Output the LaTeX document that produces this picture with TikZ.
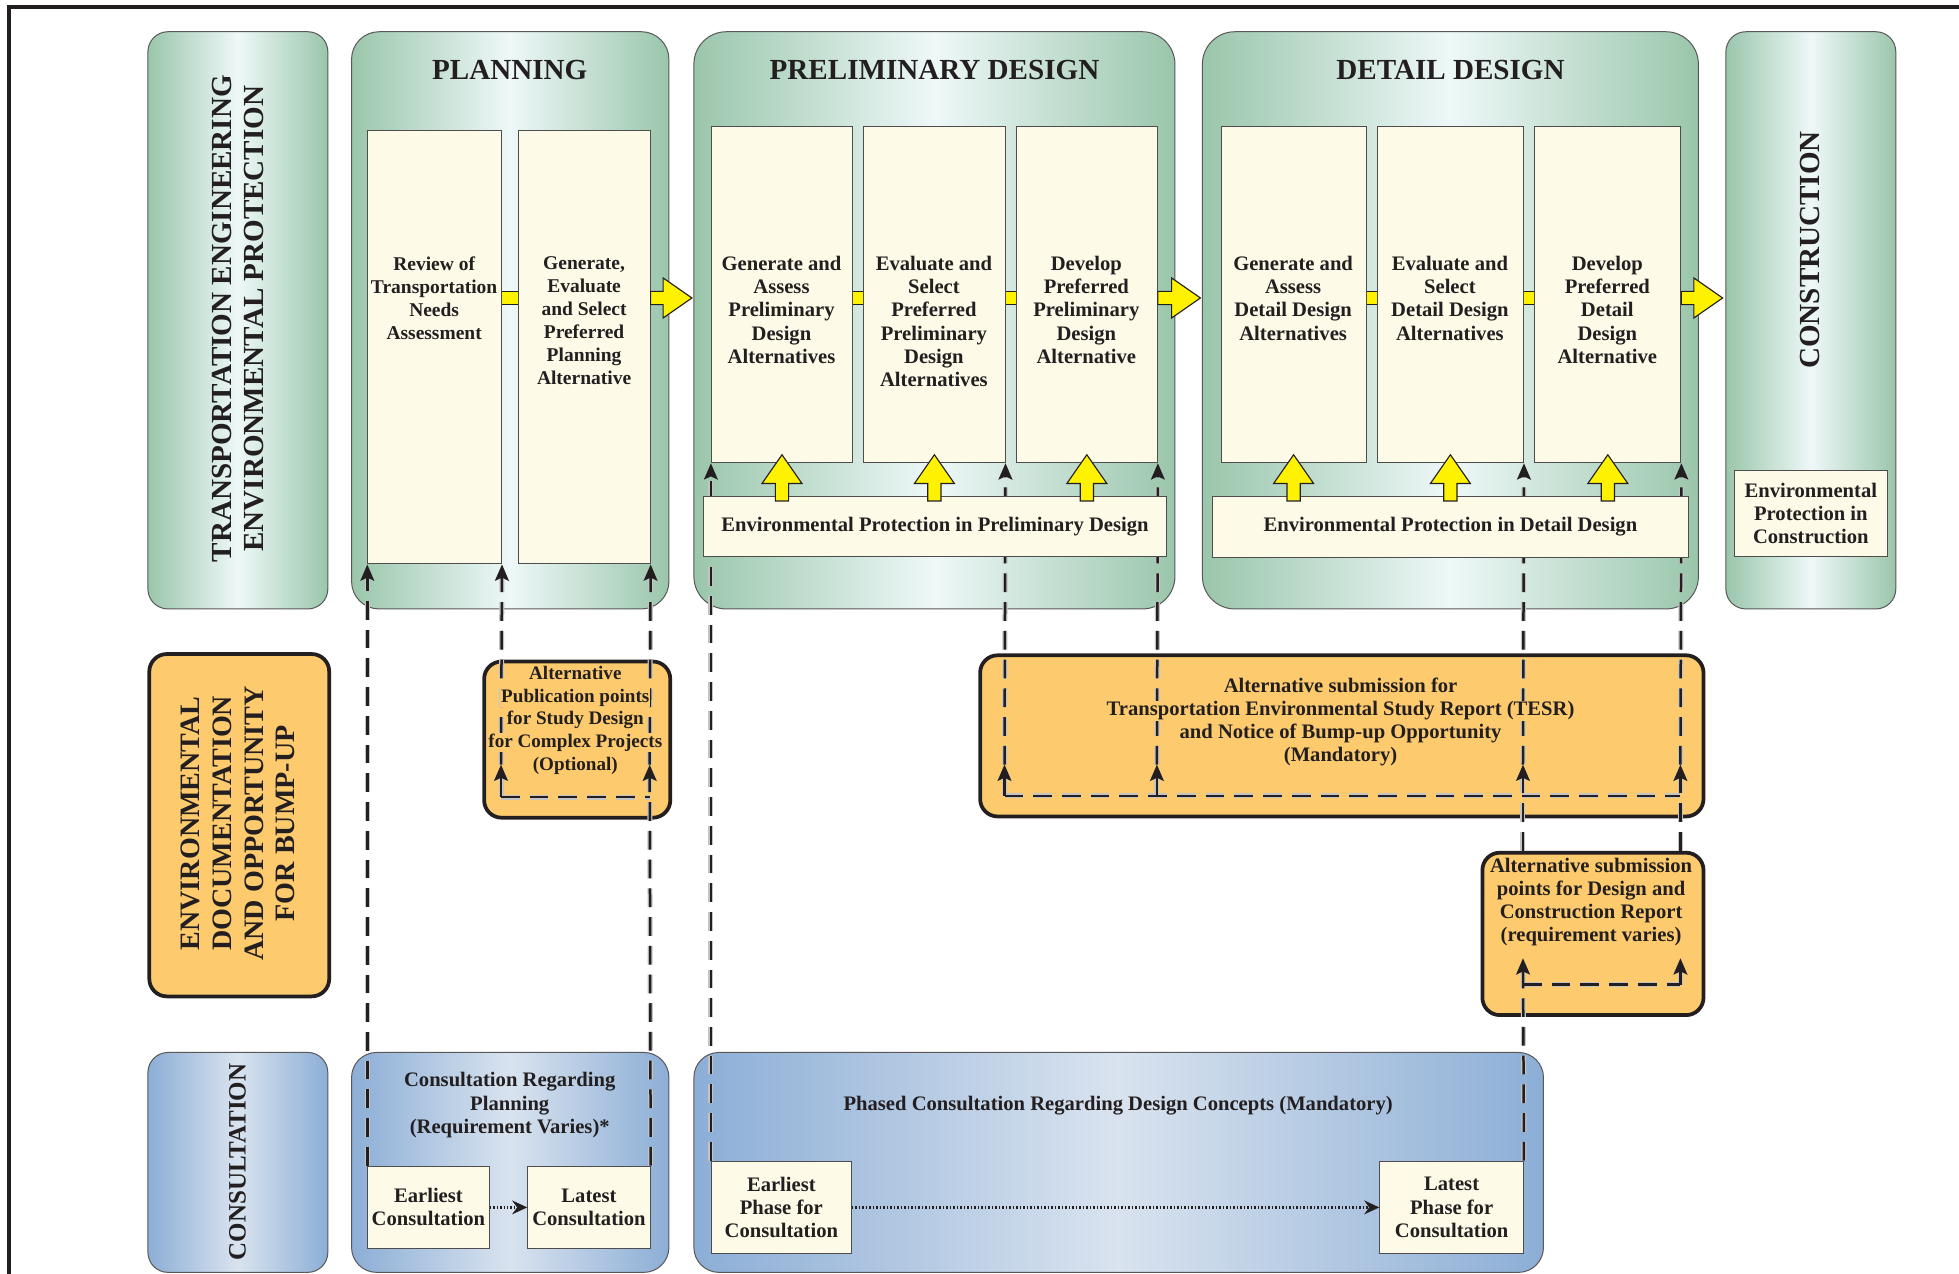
\documentclass[tikz,border=0pt]{standalone}
\usepackage{fontspec}
\setmainfont{Liberation Serif}
\usetikzlibrary{arrows.meta}
\definecolor{grn}{HTML}{9AC6AB}
\definecolor{grnl}{HTML}{EEF8F8}
\definecolor{blu}{HTML}{8CAED6}
\definecolor{blul}{HTML}{D9E3EF}
\definecolor{org}{HTML}{FDCB6E}
\definecolor{crm}{HTML}{FEFAE8}
\definecolor{ylw}{HTML}{FFF200}
\definecolor{ink}{HTML}{231F20}
\definecolor{shd}{HTML}{C4C4C4}
\newcommand\szbody{\fontsize{16.5}{18.5}\selectfont\bfseries}
\newcommand\szplan{\fontsize{15.6}{18.5}\selectfont\bfseries}
\newcommand\szsmall{\fontsize{15.3}{18.2}\selectfont\bfseries}
\newcommand\sztitle{\fontsize{23.3}{25}\selectfont\bfseries}
\newcommand\szside{\fontsize{22.5}{25.5}\selectfont\bfseries}
\newcommand\szcons{\fontsize{20}{22}\selectfont\bfseries}
\newcommand\ob[1]{{\setlength{\fboxsep}{0.6pt}\colorbox{org}{#1}}}
\tikzset{
  panelg/.style={draw=ink!75, line width=0.8pt, rounded corners=22pt, left color=grn, right color=grn, middle color=grnl, anchor=north west, inner sep=0pt},
  panelb/.style={draw=ink!75, line width=0.8pt, rounded corners=20pt, left color=blu, right color=blu, middle color=blul, anchor=north west, inner sep=0pt},
  orgbox/.style={draw=ink, line width=3pt, rounded corners=14pt, fill=org, anchor=north west, inner sep=0pt},
  cream/.style={draw=ink!80, line width=0.8pt, fill=crm, anchor=north west, inner sep=0pt, align=center, font=\szbody},
  ptext/.style={anchor=north, inner sep=0pt, align=center, font=\szbody},
  dl/.style={draw=ink, line width=2pt, dash pattern=on 15pt off 8pt},
  dlsh/.style={draw=shd, line width=4pt, dash pattern=on 15pt off 8pt, shift={(5,3)}},
  tip/.style={-{Stealth[length=13pt,width=11pt,inset=2.5pt]}},
  plain/.style={},
  dotarr/.style={draw=ink, line width=2.6pt, dash pattern=on 1.2pt off 1.6pt, -{Stealth[length=12pt,width=11pt]}},
  pics/yarr/.style={code={\draw[ink, line width=0.9pt, fill=ylw, line join=miter] (0,-5.3) -- ({#1-23},-5.3) -- ({#1-23},-16) -- (#1,0) -- ({#1-23},16) -- ({#1-23},5.3) -- (0,5.3) -- cycle;}}
}
\begin{document}
\begin{tikzpicture}[x=1pt,y=-1pt,text=ink,font=\bfseries]
\useasboundingbox (0,0) rectangle (1568,1019);
\fill[white] (0,0) rectangle (1568,1019);
% frame
\draw[ink, line width=3.5pt] (7,1030) -- (7,5.5) -- (1580,5.5);

% green panels
\node[panelg, rounded corners=16pt, minimum width=144pt, minimum height=462pt] (gl) at (118,25) {};
\node[panelg, minimum width=254pt, minimum height=462pt] (gp) at (281,25) {};
\node[panelg, rounded corners=26pt, minimum width=385pt, minimum height=462pt] (gr) at (555,25) {};
\node[panelg, rounded corners=26pt, minimum width=397pt, minimum height=462pt] (gd) at (962,25) {};
\node[panelg, rounded corners=16pt, minimum width=136pt, minimum height=462pt] (gc) at (1381,25) {};

% orange boxes
\node[orgbox, minimum width=144pt, minimum height=274pt] (ol) at (118,522) {};
\node[orgbox, minimum width=149pt, minimum height=125pt] (oa) at (386,528) {};
\node[orgbox, minimum width=579pt, minimum height=129pt] (ob) at (783,523) {};
\node[orgbox, minimum width=177pt, minimum height=130pt] (oc) at (1185,681) {};

% blue panels
\node[panelb, rounded corners=16pt, minimum width=144pt, minimum height=176pt] (bl) at (118,842) {};
\node[panelb, minimum width=254pt, minimum height=176pt] (bp) at (281,842) {};
\node[panelb, minimum width=680pt, minimum height=176pt] (bd) at (555,842) {};

% titles and side labels
\node[font=\sztitle] (gpt) at (408,56) {PLANNING};
\node[font=\sztitle] (grt) at (748,56) {PRELIMINARY DESIGN};
\node[font=\sztitle] (gdt) at (1161,56) {DETAIL DESIGN};
\node[rotate=90, align=center, font=\sztitle] (glt) at (190.5,255) {TRANSPORTATION ENGINEERING\\ENVIRONMENTAL PROTECTION};
\node[rotate=90, font=\sztitle] (gct) at (1449,200) {CONSTRUCTION};
\node[rotate=90, align=center, font=\szside] (olt) at (190.5,659) {ENVIRONMENTAL\\DOCUMENTATION\\AND OPPORTUNITY\\FOR BUMP-UP};
\node[rotate=90, font=\szcons] (blt) at (190,930) {CONSULTATION};

% process boxes
\node[cream, minimum width=107pt, minimum height=347pt] (pb1) at (294,104) {};
\node[cream, minimum width=105pt, minimum height=347pt] (pb2) at (415,104) {};
\node[cream, minimum width=113pt, minimum height=269pt] (rb1) at (569,101) {};
\node[cream, minimum width=113pt, minimum height=269pt] (rb2) at (691,101) {};
\node[cream, minimum width=113pt, minimum height=269pt] (rb3) at (813,101) {};
\node[cream, minimum width=116pt, minimum height=269pt] (db1) at (977,101) {};
\node[cream, minimum width=117pt, minimum height=269pt] (db2) at (1102,101) {};
\node[cream, minimum width=117pt, minimum height=269pt] (db3) at (1228,101) {};

% consultation sub boxes
\node[cream, minimum width=97pt, minimum height=66pt] (ce) at (294,933) {Earliest\\Consultation};
\node[cream, minimum width=98pt, minimum height=66pt] (cl) at (422,933) {Latest\\Consultation};
\node[cream, minimum width=112pt, minimum height=74pt] (pe) at (569,929) {Earliest\\Phase for\\Consultation};
\node[cream, minimum width=115pt, minimum height=74pt] (pl) at (1104,929) {Latest\\Phase for\\Consultation};

% coordinates of the dashed network
\coordinate (a1) at (401,638);  \coordinate (a2) at (520,638);
\coordinate (a1m) at (401,612); \coordinate (a2m) at (520,612);
\coordinate (b1) at (804,637);  \coordinate (b2) at (926,637); \coordinate (b4) at (1345,637);
\coordinate (b1m) at (804,612); \coordinate (b2m) at (926,612);
\coordinate (b3m) at (1219,612); \coordinate (b4m) at (1345,612);
\coordinate (c1) at (1219,788); \coordinate (c2) at (1345,788);
\coordinate (c1m) at (1219,767); \coordinate (c2m) at (1345,767);
\coordinate (c1t) at (1219,681); \coordinate (c2t) at (1345,681);

\def\seglist{ce.north west/pb1.south west/tip, a1/a1m/tip, a1m/pb1.south east/tip, cl.north east/a2m/tip, a2m/pb2.south east/tip, a1/a2/plain, pe.north west/rb1.south west/tip, b1/b1m/tip, b1m/rb2.south east/tip, b2/b2m/tip, b2m/rb3.south east/tip, b1/b4/plain, pl.north east/c1m/tip, c1t/b3m/tip, b3m/db2.south east/tip, c2/c2m/tip, c2t/b4m/tip, b4m/db3.south east/tip, c1/c2/plain}
\foreach \a/\b/\s in \seglist {\draw[dlsh,\s] (\a) -- (\b);}
\foreach \a/\b/\s in \seglist {\draw[dl,\s] (\a) -- (\b);}

% orange texts
\node[align=center, inner sep=0pt, font=\szsmall] (oat) at (460.5,576.5) {\ob{Alternative}\\\ob{Publication points}\\\ob{for Study Design}\\\ob{for Complex Projects}\\\ob{(Optional)}};
\node[align=center, inner sep=0pt, font=\szbody] (obt) at (1073,578) {\ob{Alternative submission for}\\\ob{Transportation Environmental Study Report (TESR)}\\\ob{and Notice of Bump-up Opportunity}\\\ob{(Mandatory)}};
\node[align=center, inner sep=0pt, font=\szbody] (oct) at (1273.5,722) {Alternative submission\\points for Design and\\Construction Report\\(requirement varies)};

% environmental protection boxes
\node[cream, minimum width=370pt, minimum height=48pt] (ep) at (563,397) {Environmental Protection in Preliminary Design};
\node[cream, minimum width=381pt, minimum height=49pt] (ed) at (970,397) {Environmental Protection in Detail Design};
\node[cream, minimum width=122pt, minimum height=69pt] (ec) at (1388,376) {Environmental\\Protection in\\Construction};

% yellow connectors
\coordinate (yrow) at (0,238.5);
\coordinate (erow) at (0,401);
\foreach \l/\r in {pb1/pb2, rb1/rb2, rb2/rb3, db1/db2, db2/db3}{
  \draw[ink, line width=11.5pt] (\l.east |- yrow) -- (\r.west |- yrow);
  \draw[ylw, line width=9.6pt] (\l.east |- yrow) -- (\r.west |- yrow);
}
\pic at (pb2.east |- yrow) {yarr=33};
\pic at (rb3.east |- yrow) {yarr=34};
\pic at (db3.east |- yrow) {yarr=33};
\foreach \b in {rb1, rb2, rb3, db1, db2, db3}{
  \pic[rotate=90] at (\b.south |- erow) {yarr=37};
}

% process texts
\node[ptext, font=\szplan] (pb1t) at (347.5,205) {Review of\\Transportation\\Needs\\Assessment};
\node[ptext, font=\szplan] (pb2t) at (467.5,205) {Generate,\\Evaluate\\and Select\\Preferred\\Planning\\Alternative};
\node[ptext] (rb1t) at (625.5,205) {Generate and\\Assess\\Preliminary\\Design\\Alternatives};
\node[ptext] (rb2t) at (747.5,205) {Evaluate and\\Select\\Preferred\\Preliminary\\Design\\Alternatives};
\node[ptext] (rb3t) at (869.5,205) {Develop\\Preferred\\Preliminary\\Design\\Alternative};
\node[ptext] (db1t) at (1035,205) {Generate and\\Assess\\Detail Design\\Alternatives};
\node[ptext] (db2t) at (1160.5,205) {Evaluate and\\Select\\Detail Design\\Alternatives};
\node[ptext] (db3t) at (1286.5,205) {Develop\\Preferred\\Detail\\Design\\Alternative};

% consultation texts
\node[align=center, inner sep=0pt, font=\szbody] (bpt) at (408,884.5) {Consultation Regarding\\Planning\\(Requirement Varies)*};
\node[inner sep=0pt, font=\szbody] (bdt) at (895,885) {Phased Consultation Regarding Design Concepts (Mandatory)};
\draw[dotarr] (ce.east) -- (cl.west);
\draw[dotarr] (pe.east) -- (pl.west);
\end{tikzpicture}
\end{document}
